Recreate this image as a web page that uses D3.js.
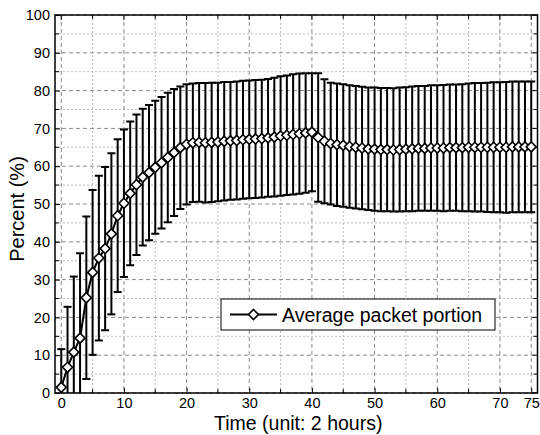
<!DOCTYPE html>
<html><head><meta charset="utf-8">
<script src="https://cdn.jsdelivr.net/npm/d3@7"></script>
<style>body{margin:0;background:#fff}</style>
</head><body><svg id="c" width="540" height="435"></svg>
<script>
const timeSteps = [0,1,2,3,4,5,6,7,8,9,10,11,12,13,14,15,16,17,18,19,20,21,22,23,24,25,26,27,28,29,30,31,32,33,34,35,36,37,38,39,40,41,42,43,44,45,46,47,48,49,50,51,52,53,54,55,56,57,58,59,60,61,62,63,64,65,66,67,68,69,70,71,72,73,74,75];
const meanValues = [1.5,6.8,10.8,14.5,25.2,31.9,35.7,38.2,42.1,46.9,
  50.2,52.8,55.1,57.1,58.3,59.7,60.9,62.3,63.6,64.9,
  65.8,66.2,66.3,66.2,66.3,66.4,66.6,66.7,66.8,67.0,
  67.1,67.2,67.3,67.5,67.7,68.0,68.2,68.4,68.6,68.8,
  69.0,67.6,66.6,66.0,65.7,65.5,65.2,65.0,64.8,64.6,
  64.5,64.4,64.4,64.3,64.4,64.5,64.6,64.7,64.7,64.8,
  64.8,64.8,64.9,64.9,64.9,65.0,65.0,65.0,65.0,65.0,
  65.0,65.0,65.1,65.1,65.1,65.1];
const errValues = [10.1,16.0,20.0,22.5,21.5,21.8,21.8,21.6,21.3,20.2,
  19.5,19.0,18.6,18.1,17.9,17.6,17.4,17.1,16.8,16.2,
  15.9,15.7,15.7,15.8,15.8,15.7,15.7,15.6,15.6,15.6,
  15.6,15.6,15.6,15.6,15.7,15.8,15.8,15.9,15.9,15.8,
  15.6,17.0,16.4,16.1,16.2,16.2,16.2,16.2,16.2,16.2,
  16.3,16.3,16.3,16.3,16.4,16.4,16.5,16.5,16.5,16.6,
  16.6,16.7,16.7,16.7,16.8,16.9,17.0,17.0,17.1,17.2,
  17.2,17.3,17.3,17.3,17.3,17.3];
const xMajorTicks = [0,10,20,30,40,50,60,70,75];
const xMinorTicks = [5,15,25,35,45,55,65];
const yMajorTicks = [0,10,20,30,40,50,60,70,80,90,100];
const yMinorTicks = [5,15,25,35,45,55,65,75,85,95];
const seriesName = "Average packet portion";
const xTitle = "Time (unit: 2 hours)";
const yTitle = "Percent (%)";

const FONT = "'Liberation Sans', Arial, Helvetica, sans-serif";
const L = 55, R = 537.5, T = 15, B = 393;
const x = d3.scaleLinear().domain([-1, 76]).range([L, R]);
const y = d3.scaleLinear().domain([0, 100]).range([B, T]);
const svg = d3.select("#c");
svg.append("rect").attr("width",540).attr("height",435).attr("fill","#fff");

const defs = svg.append("defs");
defs.append("clipPath").attr("id","clip").append("rect")
  .attr("x",L).attr("y",T).attr("width",R-L).attr("height",B-T);

// grid
const grid = svg.append("g");
xMinorTicks.forEach(v => grid.append("line").attr("x1",x(v)).attr("x2",x(v)).attr("y1",T).attr("y2",B)
  .attr("stroke","#bcbcbc").attr("stroke-width",1).attr("stroke-dasharray","2,2"));
yMinorTicks.forEach(v => grid.append("line").attr("y1",y(v)).attr("y2",y(v)).attr("x1",L).attr("x2",R)
  .attr("stroke","#bcbcbc").attr("stroke-width",1).attr("stroke-dasharray","2,2"));
xMajorTicks.forEach(v => grid.append("line").attr("x1",x(v)).attr("x2",x(v)).attr("y1",T).attr("y2",B)
  .attr("stroke","#8a8a8a").attr("stroke-width",1).attr("stroke-dasharray","4,3"));
yMajorTicks.forEach(v => grid.append("line").attr("y1",y(v)).attr("y2",y(v)).attr("x1",L).attr("x2",R)
  .attr("stroke","#8a8a8a").attr("stroke-width",1).attr("stroke-dasharray","4,3"));

// axes
const xAxis = svg.append("g").attr("transform",`translate(0,${B})`)
  .call(d3.axisBottom(x).tickValues(xMajorTicks).tickSize(-5).tickPadding(5).tickFormat(d3.format("d")));
const yAxis = svg.append("g").attr("transform",`translate(${L},0)`)
  .call(d3.axisLeft(y).tickValues(yMajorTicks).tickSize(-5).tickPadding(5).tickFormat(d3.format("d")));
[xAxis,yAxis].forEach(a => {
  a.select(".domain").remove();
  a.selectAll(".tick line").attr("stroke","#000").attr("stroke-width",1);
  a.selectAll("text").attr("font-family",FONT).attr("font-size",14.5).attr("fill","#000");
});
const tk = svg.append("g").attr("stroke","#000").attr("stroke-width",1);
xMinorTicks.forEach(v => { tk.append("line").attr("x1",x(v)).attr("x2",x(v)).attr("y1",B).attr("y2",B-4);
  tk.append("line").attr("x1",x(v)).attr("x2",x(v)).attr("y1",T).attr("y2",T+4); });
xMajorTicks.forEach(v => tk.append("line").attr("x1",x(v)).attr("x2",x(v)).attr("y1",T).attr("y2",T+5));
yMinorTicks.forEach(v => { tk.append("line").attr("y1",y(v)).attr("y2",y(v)).attr("x1",L).attr("x2",L+4);
  tk.append("line").attr("y1",y(v)).attr("y2",y(v)).attr("x1",R).attr("x2",R-4); });
yMajorTicks.forEach(v => tk.append("line").attr("y1",y(v)).attr("y2",y(v)).attr("x1",R).attr("x2",R-5));

// data
const data = timeSteps.map((t,i) => ({t, m: meanValues[i], e: errValues[i]}));
const plot = svg.append("g").attr("clip-path","url(#clip)");
const capW = 4;
data.forEach(d => {
  const g = plot.append("g").attr("stroke","#000").attr("stroke-width",2);
  g.append("line").attr("x1",x(d.t)).attr("x2",x(d.t)).attr("y1",y(d.m+d.e)).attr("y2",y(d.m-d.e));
  g.append("line").attr("x1",x(d.t)-capW).attr("x2",x(d.t)+capW).attr("y1",y(d.m+d.e)).attr("y2",y(d.m+d.e));
  g.append("line").attr("x1",x(d.t)-capW).attr("x2",x(d.t)+capW).attr("y1",y(d.m-d.e)).attr("y2",y(d.m-d.e));
});
plot.append("path").datum(data)
  .attr("d", d3.line().x(d=>x(d.t)).y(d=>y(d.m)))
  .attr("fill","none").attr("stroke","#000").attr("stroke-width",2);
const diamond = (cx,cy,r) => `M${cx},${cy-r}L${cx+r},${cy}L${cx},${cy+r}L${cx-r},${cy}Z`;
svg.append("g").selectAll("path").data(data).join("path")
  .attr("d", d => diamond(x(d.t), y(d.m), 5))
  .attr("fill","#fff").attr("stroke","#000").attr("stroke-width",1.6);

// frame
svg.append("rect").attr("x",L).attr("y",T).attr("width",R-L).attr("height",B-T)
  .attr("fill","none").attr("stroke","#000").attr("stroke-width",1.5);

// legend
const lg = svg.append("g");
lg.append("rect").attr("x",221).attr("y",299).attr("width",274).attr("height",31)
  .attr("fill","#fff").attr("stroke","#000").attr("stroke-width",1);
lg.append("line").attr("x1",230).attr("x2",277).attr("y1",314.5).attr("y2",314.5)
  .attr("stroke","#000").attr("stroke-width",2);
lg.append("path").attr("d",diamond(253.5,314.5,5)).attr("fill","#fff").attr("stroke","#000").attr("stroke-width",1.6);
lg.append("text").attr("x",282).attr("y",321.5).attr("font-family",FONT).attr("font-size",19.5)
  .attr("fill","#000").text(seriesName);

// titles
svg.append("text").attr("x",(L+R)/2+2).attr("y",430).attr("text-anchor","middle")
  .attr("font-family",FONT).attr("font-size",19.5).attr("fill","#000").text(xTitle);
svg.append("text").attr("transform",`translate(24,209) rotate(-90)`).attr("text-anchor","middle")
  .attr("font-family",FONT).attr("font-size",20).attr("fill","#000").text(yTitle);
</script></body></html>
